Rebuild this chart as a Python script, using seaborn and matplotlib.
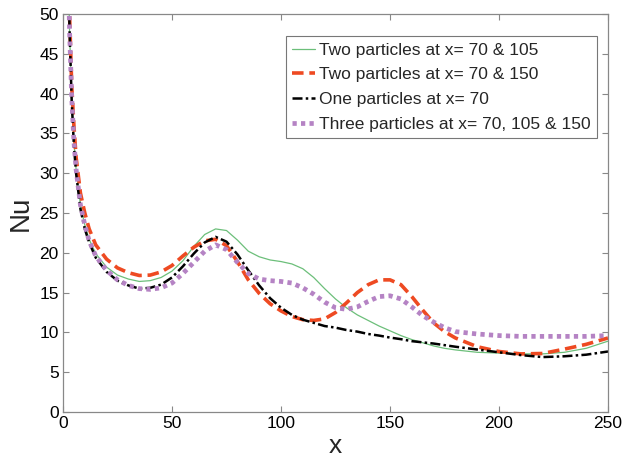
import matplotlib
matplotlib.use("Agg")
import matplotlib.pyplot as plt
import seaborn as sns
import pandas as pd

x = [2.5, 3, 4, 5, 6, 8, 10, 12, 15, 20, 25, 30, 35, 40, 45, 50, 55, 60, 65, 70,
     75, 80, 85, 90, 95, 100, 105, 110, 115, 120, 125, 130, 135, 140, 145, 150,
     155, 160, 165, 170, 175, 180, 190, 200, 210, 220, 230, 240, 250]

green = [55, 48, 39, 34, 30.5, 26, 23.5, 21.7, 19.9, 18.2, 17.2, 16.7, 16.4, 16.5, 16.9,
         17.7, 19.0, 20.8, 22.3, 23.0, 22.8, 21.6, 20.2, 19.5, 19.1, 18.9, 18.6, 18.0,
         16.9, 15.5, 14.2, 13.1, 12.2, 11.5, 10.8, 10.2, 9.6, 9.1, 8.7, 8.3, 8.0, 7.8,
         7.5, 7.4, 7.3, 7.3, 7.5, 8.0, 8.9]

red = [56, 50, 41, 36, 32, 27.5, 25, 23, 21, 19.2, 18.1, 17.5, 17.15, 17.2, 17.6, 18.4,
       19.6, 20.7, 21.5, 21.7, 20.9, 18.9, 16.6, 14.9, 13.6, 12.7, 12.0, 11.6, 11.5,
       11.7, 12.5, 13.7, 15.0, 16.0, 16.6, 16.6, 16.0, 14.5, 12.8, 11.2, 10.1, 9.3,
       8.2, 7.6, 7.3, 7.35, 7.9, 8.5, 9.3]

black = [55, 48, 39, 33.5, 30, 25.5, 23, 21.3, 19.4, 17.6, 16.5, 15.9, 15.5, 15.6, 16.0,
         16.9, 18.3, 19.9, 21.3, 22.0, 21.4, 19.8, 17.8, 15.9, 14.3, 13.1, 12.2, 11.6,
         11.2, 10.8, 10.6, 10.3, 10.1, 9.8, 9.6, 9.35, 9.15, 8.9, 8.75, 8.6, 8.4, 8.2,
         7.85, 7.5, 7.15, 6.9, 7.0, 7.2, 7.6]

purple = [55, 48, 39.5, 34, 30.5, 26, 23.5, 21.5, 19.6, 17.8, 16.6, 15.9, 15.5, 15.4,
          15.6, 16.2, 17.4, 18.8, 20.2, 21.0, 20.4, 18.8, 17.4, 16.7, 16.5, 16.4, 16.2,
          15.6, 14.8, 13.8, 13.1, 12.9, 13.2, 13.9, 14.5, 14.6, 14.2, 13.2, 12.1, 11.3,
          10.6, 10.1, 9.8, 9.6, 9.5, 9.5, 9.5, 9.5, 9.6]

labels = ["Two particles at x= 70 & 105",
          "Two particles at x= 70 & 150",
          "One particles at x= 70",
          "Three particles at x= 70, 105 & 150"]

sns.set_theme(style="white")
plt.rcParams['font.family'] = ['Liberation Sans', 'DejaVu Sans']

fig = plt.figure(figsize=(6.34, 4.59), dpi=100)
ax = fig.add_axes([63 / 634, 1 - 412 / 459, (608 - 63) / 634, (412 - 14) / 459])

series = [
    (green, labels[0], dict(color="#6cbf7a", lw=0.9, ls="-")),
    (red, labels[1], dict(color="#ee4a22", lw=2.6, ls=(0, (3.2, 1.6)))),
    (black, labels[2], dict(color="black", lw=1.8, ls=(0, (4, 1.3, 1, 1.3)))),
    (purple, labels[3], dict(color="#b583c4", lw=3.4, ls=(0, (0.9, 0.9)))),
]
for vals, lab, style in series:
    df = pd.DataFrame({"x": x, "Nu": vals})
    sns.lineplot(data=df, x="x", y="Nu", ax=ax, label=lab, sort=False,
                 estimator=None, **style)

ax.set_xlim(0, 250)
ax.set_ylim(0, 50)
ax.set_xticks([0, 50, 100, 150, 200, 250])
ax.set_yticks(range(0, 51, 5))
ax.tick_params(direction="in", length=4, width=0.8, color="#888888",
               bottom=True, left=True, top=True, right=True,
               labelsize=12.5, pad=3, labelcolor="black")
for s in ax.spines.values():
    s.set_color("#888888")
    s.set_linewidth(0.9)

ax.set_xlabel("x", fontsize=19, labelpad=2)
ax.set_ylabel("Nu", fontsize=20, labelpad=4)

leg = ax.legend(loc="upper right", bbox_to_anchor=(0.98, 0.945), fontsize=12.5,
                frameon=True, fancybox=False, edgecolor="#555555",
                handlelength=1.3, handletextpad=0.23, labelspacing=0.55,
                borderpad=0.38, borderaxespad=0)
leg.get_frame().set_linewidth(0.8)

fig.savefig("out.png", dpi=100)
